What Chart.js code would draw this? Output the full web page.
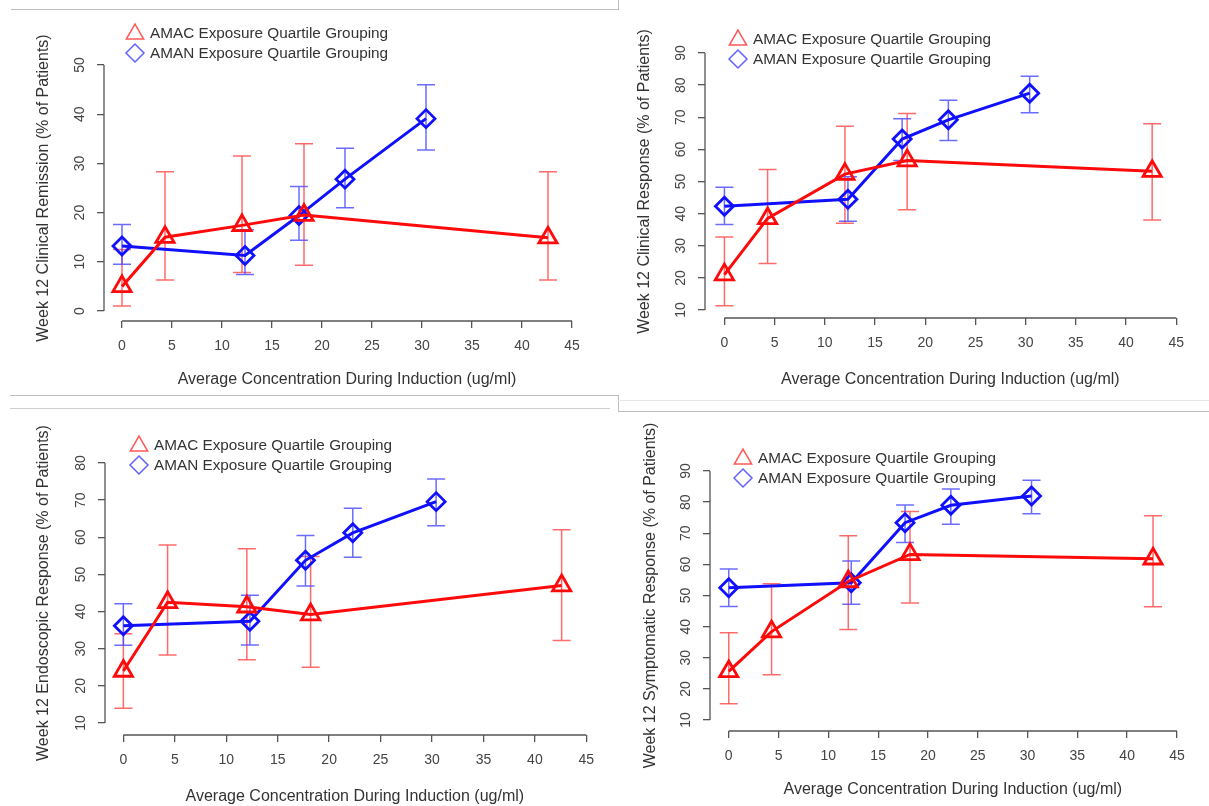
<!DOCTYPE html>
<html lang="en">
<head>
<meta charset="UTF-8">
<title>Week 12 outcomes vs induction concentration</title>
<script src="https://cdn.jsdelivr.net/npm/chart.js"></script>
<style>
  html, body { margin: 0; padding: 0; background: #fff; }
  body { width: 1209px; height: 806px; position: relative; overflow: hidden; }
  canvas { position: absolute; }
  .sep { position: absolute; background: #bdbdbd; }
</style>
</head>
<body>
<canvas id="c1"></canvas>
<canvas id="c2"></canvas>
<canvas id="c3"></canvas>
<canvas id="c4"></canvas>

<!-- frame lines from the original screenshot -->
<div class="sep" style="left:11px; top:9px; width:607px; height:1px;"></div>
<div class="sep" style="left:618px; top:0px; width:1px; height:10px;"></div>
<div class="sep" style="left:10px; top:395px; width:608px; height:1px;"></div>
<div class="sep" style="left:618px; top:395px; width:1px; height:16px;"></div>
<div class="sep" style="left:618px; top:400px; width:591px; height:1px; background:#e6e6e6;"></div>
<div class="sep" style="left:618px; top:411px; width:591px; height:1px;"></div>
<div class="sep" style="left:10px; top:408px; width:600px; height:1px; background:#d0d0d0;"></div>

<script>
// ---- data ----
const xTickLabels = ['0', '5', '10', '15', '20', '25', '30', '35', '40', '45'];
const amacConc = [0, 4.3, 12.0, 18.2, 42.6];
const amanConc = [0, 12.3, 17.7, 22.3, 30.4];

// clinical remission
const remissionAmac   = [5.0, 15.0, 17.4, 19.5, 14.9];
const remissionAmacLo = [1.0, 6.3, 7.8, 9.3, 6.3];
const remissionAmacHi = [12.5, 28.3, 31.5, 34.0, 28.3];
const remissionAman   = [13.2, 11.3, 19.4, 26.8, 39.1];
const remissionAmanLo = [9.5, 7.4, 14.4, 21.0, 32.7];
const remissionAmanHi = [17.6, 16.5, 25.3, 33.1, 46.0];

// clinical response
const responseAmac   = [21.0, 38.5, 52.3, 56.5, 53.2];
const responseAmacLo = [11.3, 24.5, 37.0, 41.2, 38.0];
const responseAmacHi = [32.7, 53.7, 67.2, 71.2, 68.0];
const responseAman   = [42.3, 44.5, 63.2, 69.2, 77.5];
const responseAmanLo = [36.6, 37.6, 56.5, 62.8, 71.4];
const responseAmanHi = [48.2, 51.5, 69.5, 75.3, 82.8];

// endoscopic response
const endoAmac   = [24.0, 42.5, 41.3, 39.2, 47.0];
const endoAmacLo = [14.0, 28.3, 27.0, 25.0, 32.2];
const endoAmacHi = [34.0, 57.9, 56.9, 54.8, 62.0];
const endoAman   = [36.2, 37.4, 53.8, 61.2, 69.6];
const endoAmanLo = [30.9, 31.0, 46.9, 54.6, 63.1];
const endoAmanHi = [42.1, 44.4, 60.5, 67.8, 75.7];

// symptomatic response
const sympAmac   = [25.6, 38.4, 54.5, 63.2, 61.8];
const sympAmacLo = [15.2, 24.5, 39.1, 47.6, 46.4];
const sympAmacHi = [38.0, 53.8, 69.2, 77.0, 75.6];
const sympAman   = [52.5, 54.1, 73.4, 79.0, 82.0];
const sympAmanLo = [46.5, 47.2, 67.0, 72.9, 76.3];
const sympAmanHi = [58.5, 61.1, 79.1, 84.2, 87.0];

const legendLabels = ['AMAC Exposure Quartile Grouping', 'AMAN Exposure Quartile Grouping'];
const xTitle = 'Average Concentration During Induction (ug/ml)';

// ---- panel layout (pixels in the page) ----
const panels = [
  { id: 'c1', yTitle: 'Week 12 Clinical Remission (% of Patients)', yMin: 0, yMax: 50,
    amac: [remissionAmac, remissionAmacLo, remissionAmacHi], aman: [remissionAman, remissionAmanLo, remissionAmanHi],
    box: { left: 0, top: 12, w: 610, h: 383 },
    geo: { axisX: 104, axisY: 321, x0: 122, x45: 572, yLoPx: 311, yHiPx: 65 },
    yTitleX: 44, xTitleY: 380, legend: { x: 135, y: 33 } },
  { id: 'c2', yTitle: 'Week 12 Clinical Response (% of Patients)', yMin: 10, yMax: 90,
    amac: [responseAmac, responseAmacLo, responseAmacHi], aman: [responseAman, responseAmanLo, responseAmanHi],
    box: { left: 612, top: 12, w: 597, h: 383 },
    geo: { axisX: 705, axisY: 318, x0: 725, x45: 1190, yLoPx: 310, yHiPx: 53 },
    yTitleX: 645, xTitleY: 380, legend: { x: 738, y: 39 } },
  { id: 'c3', yTitle: 'Week 12 Endoscopic Response (% of Patients)', yMin: 10, yMax: 80,
    amac: [endoAmac, endoAmacLo, endoAmacHi], aman: [endoAman, endoAmanLo, endoAmanHi],
    box: { left: 0, top: 410, w: 618, h: 396 },
    geo: { axisX: 105, axisY: 735, x0: 124, x45: 603, yLoPx: 723, yHiPx: 463 },
    yTitleX: 44, xTitleY: 797, legend: { x: 139, y: 445 } },
  { id: 'c4', yTitle: 'Week 12 Symptomatic Response (% of Patients)', yMin: 10, yMax: 90,
    amac: [sympAmac, sympAmacLo, sympAmacHi], aman: [sympAman, sympAmanLo, sympAmanHi],
    box: { left: 620, top: 412, w: 589, h: 394 },
    geo: { axisX: 710, axisY: 731, x0: 729, x45: 1183, yLoPx: 720, yHiPx: 471 },
    yTitleX: 651, xTitleY: 790, legend: { x: 743, y: 458 } }
];

Chart.defaults.font.family = "'Liberation Sans', Arial, Helvetica, sans-serif";
Chart.defaults.color = '#3a3a3a';

const RED = '#ff0a0a', BLUE = '#1010ff';
const RED_ERR = 'rgba(255,70,70,0.8)', BLUE_ERR = 'rgba(70,70,255,0.8)';
const AXIS = '#555';

// error bars, drawn with the chart's own scales
const errorBars = {
  id: 'errorBars',
  beforeDatasetsDraw(chart) {
    const ctx = chart.ctx, xs = chart.scales.x, ys = chart.scales.y;
    chart.data.datasets.forEach(ds => {
      ctx.save();
      ctx.strokeStyle = ds.errColor;
      ctx.lineWidth = 1.5;
      ds.data.forEach((p, i) => {
        const px = xs.getPixelForValue(p.x);
        const lo = ys.getPixelForValue(ds.errLo[i]);
        const hi = ys.getPixelForValue(ds.errHi[i]);
        ctx.beginPath();
        ctx.moveTo(px, lo); ctx.lineTo(px, hi);
        ctx.moveTo(px - 9, lo); ctx.lineTo(px + 9, lo);
        ctx.moveTo(px - 9, hi); ctx.lineTo(px + 9, hi);
        ctx.stroke();
      });
      ctx.restore();
    });
  }
};

// R style axis lines: only from first to last tick
const rAxes = {
  id: 'rAxes',
  afterDraw(chart) {
    const ctx = chart.ctx, xs = chart.scales.x, ys = chart.scales.y, a = chart.chartArea;
    const p = chart.options.plugins.rAxes;
    ctx.save();
    ctx.strokeStyle = AXIS;
    ctx.lineWidth = 1.3;
    ctx.beginPath();
    ctx.moveTo(a.left, ys.getPixelForValue(p.yMin));
    ctx.lineTo(a.left, ys.getPixelForValue(p.yMax));
    ctx.moveTo(xs.getPixelForValue(0), a.bottom);
    ctx.lineTo(xs.getPixelForValue(45), a.bottom);
    ctx.stroke();
    ctx.restore();
  }
};

// legend in the top-left corner, two rows
const rLegend = {
  id: 'rLegend',
  afterDraw(chart) {
    const ctx = chart.ctx, o = chart.options.plugins.rLegend;
    chart.data.datasets.forEach((ds, i) => {
      const y = o.y + i * 20;
      const r = ds.pointStyle === 'triangle' ? 10 : 9;
      ctx.save();
      ctx.strokeStyle = ds.legendColor;
      ctx.fillStyle = 'rgba(0,0,0,0)';
      ctx.lineWidth = 1.5;
      Chart.helpers.drawPoint(ctx, { pointStyle: ds.pointStyle, radius: r, borderWidth: 1.5, rotation: 0 },
                              o.x, ds.pointStyle === 'triangle' ? y + 1 : y);
      ctx.fillStyle = '#333';
      ctx.font = "15.3px 'Liberation Sans', Arial, sans-serif";
      ctx.textBaseline = 'middle';
      ctx.fillText(ds.label, o.x + 15, y + 1);
      ctx.restore();
    });
  }
};

function makeChart(p) {
  const canvas = document.getElementById(p.id);
  canvas.width = p.box.w; canvas.height = p.box.h;
  canvas.style.left = p.box.left + 'px'; canvas.style.top = p.box.top + 'px';
  canvas.style.width = p.box.w + 'px'; canvas.style.height = p.box.h + 'px';

  const g = p.geo;
  const kx = (g.x45 - g.x0) / 45;
  const gapX = g.x0 - g.axisX;
  const ky = (g.yLoPx - g.yHiPx) / (p.yMax - p.yMin);
  const gapY = g.axisY - g.yLoPx;
  const areaTop = g.yHiPx - gapY;
  const areaRight = g.x45 + gapX;
  const leg = { x: p.legend.x - p.box.left, y: p.legend.y - p.box.top };

  const pts = (xsArr, ysArr) => xsArr.map((x, i) => ({ x: x, y: ysArr[i] }));

  return new Chart(canvas, {
    type: 'line',
    data: {
      datasets: [
        { label: legendLabels[0], data: pts(amacConc, p.amac[0]), errLo: p.amac[1], errHi: p.amac[2],
          borderColor: RED, borderWidth: 3, pointStyle: 'triangle', pointRadius: 10.5,
          pointBorderWidth: 2.8, pointBackgroundColor: 'rgba(0,0,0,0)', pointBorderColor: RED,
          errColor: RED_ERR, legendColor: 'rgba(255,60,60,0.85)', tension: 0 },
        { label: legendLabels[1], data: pts(amanConc, p.aman[0]), errLo: p.aman[1], errHi: p.aman[2],
          borderColor: BLUE, borderWidth: 3, pointStyle: 'rectRot', pointRadius: 9,
          pointBorderWidth: 2.8, pointBackgroundColor: 'rgba(0,0,0,0)', pointBorderColor: BLUE,
          errColor: BLUE_ERR, legendColor: 'rgba(70,70,255,0.85)', tension: 0 }
      ]
    },
    options: {
      responsive: false,
      animation: false,
      events: [],
      layout: {
        padding: { left: 0, top: areaTop - p.box.top, right: p.box.left + p.box.w - areaRight, bottom: 0 }
      },
      scales: {
        x: {
          type: 'linear',
          min: -gapX / kx, max: 45 + gapX / kx,
          grid: { drawOnChartArea: false, drawTicks: true, tickLength: 7, color: AXIS, lineWidth: 1.3 },
          border: { display: false },
          ticks: { stepSize: 5, includeBounds: false, padding: 10, font: { size: 14 }, color: '#444',
                   maxRotation: 0, autoSkip: false,
                   callback: (v) => xTickLabels[Math.round(v / 5)] },
          title: { display: true, text: xTitle, font: { size: 16 }, color: '#333',
                   padding: { top: 0, bottom: 0 } },
          afterFit: (s) => { s.height = p.box.top + p.box.h - g.axisY; }
        },
        y: {
          min: p.yMin - gapY / ky, max: p.yMax + gapY / ky,
          grid: { drawOnChartArea: false, drawTicks: true, tickLength: 7, color: AXIS, lineWidth: 1.3 },
          border: { display: false },
          ticks: { stepSize: 10, includeBounds: false, padding: 9, font: { size: 14 }, color: '#444',
                   minRotation: 90, maxRotation: 90, crossAlign: 'center' },
          title: { display: true, text: p.yTitle, font: { size: 16 }, color: '#333',
                   padding: { top: 0, bottom: 0 } },
          afterFit: (s) => { s.width = g.axisX - p.box.left; }
        }
      },
      plugins: {
        legend: { display: false },
        tooltip: { enabled: false },
        rAxes: { yMin: p.yMin, yMax: p.yMax },
        rLegend: { x: leg.x, y: leg.y }
      }
    },
    plugins: [errorBars, rAxes, rLegend, {
      // place the axis titles where the reference has them
      id: 'titlePos',
      beforeInit(chart) {
        const yt = p.yTitleX - p.box.left - 9.6;
        const xt = p.box.top + p.box.h - p.xTitleY - 9.6;
        chart.options.scales.y.title.padding = { top: yt, bottom: yt };
        chart.options.scales.x.title.padding = { top: xt, bottom: xt };
      }
    }]
  });
}

panels.forEach(makeChart);
</script>
</body>
</html>
